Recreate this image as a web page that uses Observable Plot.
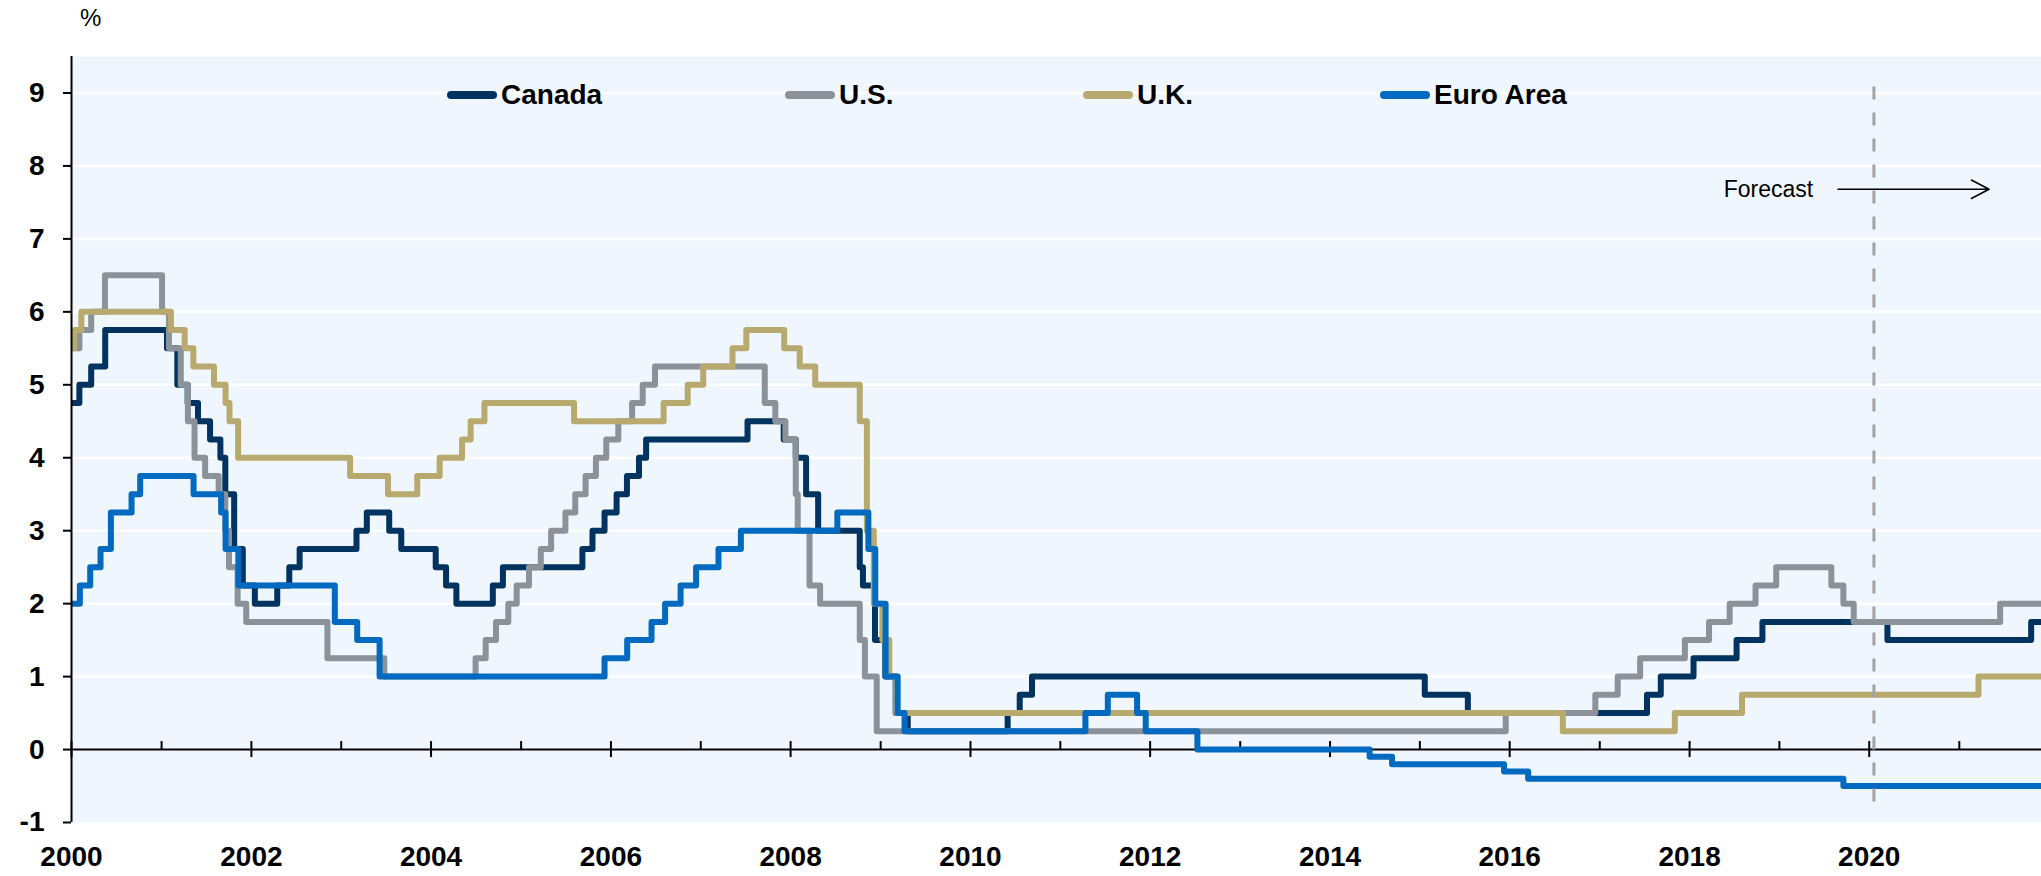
<!DOCTYPE html>
<html>
<head>
<meta charset="utf-8">
<script src="https://cdn.jsdelivr.net/npm/d3@7"></script>
<script src="https://cdn.jsdelivr.net/npm/@observablehq/plot@0.6"></script>
<style>
  body { margin: 0; background: #fff; }
  #wrap { position: relative; width: 2041px; height: 876px; font-family: "Liberation Sans", Arial, sans-serif; color: #000; }
  #unit { position: absolute; left: 80px; top: 6px; font-size: 24px; line-height: 1; }
  .leg { position: absolute; top: 79px; display: flex; align-items: center; font-weight: bold; font-size: 28px; line-height: 32px; }
  .sw { width: 50px; height: 8px; border-radius: 4px; margin-right: 4px; }
  svg { position: absolute; left: 0; top: 0; }
</style>
</head>
<body>
<div id="wrap"><div id="unit">%</div></div>
<script>
// ---- data (policy rates, %; change points) ----
const seriesNames = ["Canada", "U.S.", "U.K.", "Euro Area"];
const seriesColors = ["#00335f", "#8b9299", "#b8a96f", "#006ac1"];

const canadaRates = [
  ["2000-01-01", 4.75], ["2000-02-02", 5.00], ["2000-03-21", 5.25], ["2000-05-17", 5.75],
  ["2001-01-23", 5.50], ["2001-03-06", 5.00], ["2001-04-17", 4.75], ["2001-05-29", 4.50],
  ["2001-07-17", 4.25], ["2001-08-28", 4.00], ["2001-09-17", 3.50], ["2001-10-23", 2.75],
  ["2001-11-27", 2.25], ["2002-01-15", 2.00], ["2002-04-16", 2.25], ["2002-06-04", 2.50],
  ["2002-07-16", 2.75], ["2003-03-04", 3.00], ["2003-04-15", 3.25], ["2003-07-15", 3.00],
  ["2003-09-02", 2.75], ["2004-01-20", 2.50], ["2004-03-02", 2.25], ["2004-04-13", 2.00],
  ["2004-09-08", 2.25], ["2004-10-19", 2.50], ["2005-09-07", 2.75], ["2005-10-18", 3.00],
  ["2005-12-06", 3.25], ["2006-01-24", 3.50], ["2006-03-07", 3.75], ["2006-04-25", 4.00],
  ["2006-05-24", 4.25], ["2007-07-10", 4.50], ["2007-12-04", 4.25], ["2008-01-22", 4.00],
  ["2008-03-04", 3.50], ["2008-04-22", 3.00], ["2008-10-08", 2.50], ["2008-10-21", 2.25],
  ["2008-12-09", 1.50], ["2009-01-20", 1.00], ["2009-03-03", 0.50], ["2009-04-21", 0.25],
  ["2010-06-01", 0.50], ["2010-07-20", 0.75], ["2010-09-08", 1.00], ["2015-01-21", 0.75],
  ["2015-07-15", 0.50], ["2017-07-12", 0.75], ["2017-09-06", 1.00], ["2018-01-17", 1.25],
  ["2018-07-11", 1.50], ["2018-10-24", 1.75], ["2020-03-15", 1.50], ["2021-10-20", 1.75]
];
const usRates = [
  ["2000-01-01", 5.50], ["2000-02-02", 5.75], ["2000-03-21", 6.00], ["2000-05-16", 6.50],
  ["2001-01-03", 6.00], ["2001-01-31", 5.50], ["2001-03-20", 5.00], ["2001-04-18", 4.50],
  ["2001-05-15", 4.00], ["2001-06-27", 3.75], ["2001-08-21", 3.50], ["2001-09-17", 3.00],
  ["2001-10-02", 2.50], ["2001-11-06", 2.00], ["2001-12-11", 1.75], ["2002-11-06", 1.25],
  ["2003-06-25", 1.00], ["2004-06-30", 1.25], ["2004-08-10", 1.50], ["2004-09-21", 1.75],
  ["2004-11-10", 2.00], ["2004-12-14", 2.25], ["2005-02-02", 2.50], ["2005-03-22", 2.75],
  ["2005-05-03", 3.00], ["2005-06-30", 3.25], ["2005-08-09", 3.50], ["2005-09-20", 3.75],
  ["2005-11-01", 4.00], ["2005-12-13", 4.25], ["2006-01-31", 4.50], ["2006-03-28", 4.75],
  ["2006-05-10", 5.00], ["2006-06-29", 5.25], ["2007-09-18", 4.75], ["2007-10-31", 4.50],
  ["2007-12-11", 4.25], ["2008-01-22", 3.50], ["2008-01-30", 3.00], ["2008-03-18", 2.25],
  ["2008-04-30", 2.00], ["2008-10-08", 1.50], ["2008-10-29", 1.00], ["2008-12-16", 0.25],
  ["2015-12-16", 0.50], ["2016-12-14", 0.75], ["2017-03-15", 1.00], ["2017-06-14", 1.25],
  ["2017-12-13", 1.50], ["2018-03-21", 1.75], ["2018-06-13", 2.00], ["2018-09-26", 2.25],
  ["2018-12-19", 2.50], ["2019-07-31", 2.25], ["2019-09-18", 2.00], ["2019-10-30", 1.75],
  ["2021-06-16", 2.00]
];
const ukRates = [
  ["2000-01-01", 5.50], ["2000-01-13", 5.75], ["2000-02-10", 6.00], ["2001-02-08", 5.75],
  ["2001-04-05", 5.50], ["2001-05-10", 5.25], ["2001-08-02", 5.00], ["2001-09-18", 4.75],
  ["2001-10-04", 4.50], ["2001-11-08", 4.00], ["2003-02-06", 3.75], ["2003-07-10", 3.50],
  ["2003-11-06", 3.75], ["2004-02-05", 4.00], ["2004-05-06", 4.25], ["2004-06-10", 4.50],
  ["2004-08-05", 4.75], ["2005-08-04", 4.50], ["2006-08-03", 4.75], ["2006-11-09", 5.00],
  ["2007-01-11", 5.25], ["2007-05-10", 5.50], ["2007-07-05", 5.75], ["2007-12-06", 5.50],
  ["2008-02-07", 5.25], ["2008-04-10", 5.00], ["2008-10-08", 4.50], ["2008-11-06", 3.00],
  ["2008-12-04", 2.00], ["2009-01-08", 1.50], ["2009-02-05", 1.00], ["2009-03-05", 0.50],
  ["2016-08-04", 0.25], ["2017-11-02", 0.50], ["2018-08-02", 0.75], ["2021-03-20", 1.00]
];
const euroRates = [
  ["2000-01-01", 2.00], ["2000-02-04", 2.25], ["2000-03-17", 2.50], ["2000-04-28", 2.75],
  ["2000-06-09", 3.25], ["2000-09-01", 3.50], ["2000-10-06", 3.75], ["2001-05-11", 3.50],
  ["2001-08-31", 3.25], ["2001-09-18", 2.75], ["2001-11-09", 2.25], ["2002-12-06", 1.75],
  ["2003-03-07", 1.50], ["2003-06-06", 1.00], ["2005-12-06", 1.25], ["2006-03-08", 1.50],
  ["2006-06-15", 1.75], ["2006-08-09", 2.00], ["2006-10-11", 2.25], ["2006-12-13", 2.50],
  ["2007-03-14", 2.75], ["2007-06-13", 3.00], ["2008-07-09", 3.25], ["2008-11-12", 2.75],
  ["2008-12-10", 2.00], ["2009-01-21", 1.00], ["2009-03-11", 0.50], ["2009-04-08", 0.25],
  ["2011-04-13", 0.50], ["2011-07-13", 0.75], ["2011-11-09", 0.50], ["2011-12-14", 0.25],
  ["2012-07-11", 0.00], ["2014-06-11", -0.10], ["2014-09-10", -0.20], ["2015-12-09", -0.30],
  ["2016-03-16", -0.40], ["2019-09-18", -0.50]
];
const seriesEnd = "2021-12-31";

const yTicks = [-1, 0, 1, 2, 3, 4, 5, 6, 7, 8, 9];
const gridTicks = [1, 2, 3, 4, 5, 6, 7, 8, 9];
const xMajorYears = ["2000", "2002", "2004", "2006", "2008", "2010", "2012", "2014", "2016", "2018", "2020"];
const xMinorYears = ["2001", "2003", "2005", "2007", "2009", "2011", "2013", "2015", "2017", "2019", "2021"];
const xDomain = ["2000-01-01", "2021-12-01"];
const yDomain = [-1, 9.5];

const forecastStart = ["2020-01-20"];
const forecastSpan = [-0.72, 9.18];
const forecastNote = [{date: "2019-05-18", value: 7.68, text: "Forecast"}];
const forecastArrow = [{from: "2019-08-27", to: "2021-05-02", value: 7.68}];

// ---- build ----
const parseDate = d3.utcParse("%Y-%m-%d");
const parseYear = d3.utcParse("%Y");
const allSeries = [canadaRates, usRates, ukRates, euroRates];
const rows = [];
allSeries.forEach((arr, i) => {
  arr.forEach(([d, v]) => rows.push({series: seriesNames[i], date: parseDate(d), value: v}));
  rows.push({series: seriesNames[i], date: parseDate(seriesEnd), value: arr[arr.length - 1][1]});
});
const majorDates = xMajorYears.map(parseYear);
const minorDates = xMinorYears.map(parseYear);

const chart = Plot.plot({
  width: 2041,
  height: 876,
  marginTop: 56,
  marginBottom: 54,
  marginLeft: 71,
  marginRight: 0,
  x: {type: "utc", domain: xDomain.map(parseDate)},
  y: {domain: yDomain},
  color: {domain: seriesNames, range: seriesColors},
  style: {fontFamily: "'Liberation Sans', Arial, sans-serif", fontSize: "28px", fontWeight: "bold", color: "#000", background: "transparent"},
  marks: [
    Plot.frame({fill: "#eff6fd", stroke: null}),
    Plot.gridY(gridTicks, {stroke: "#ffffff", strokeOpacity: 1, strokeWidth: 2.5}),
    Plot.ruleY([0], {stroke: "#000", strokeWidth: 2}),
    Plot.ruleX(minorDates, {x: d => d, y1: 0, y2: 0, insetTop: -8, stroke: "#000", strokeWidth: 2}),
    Plot.ruleX(majorDates, {x: d => d, y1: 0, y2: 0, insetTop: -8, insetBottom: -8, stroke: "#000", strokeWidth: 2}),
    Plot.line(rows, {x: "date", y: "value", z: "series", stroke: "series", curve: "step-after", strokeWidth: 6, strokeLinejoin: "round", clip: true}),
    Plot.ruleX(forecastStart, {x: d => parseDate(d), y1: forecastSpan[0], y2: forecastSpan[1], stroke: "#a3a3a3", strokeWidth: 3, strokeDasharray: "13,13"}),
    Plot.text(forecastNote, {x: d => parseDate(d.date), y: "value", text: "text", textAnchor: "end", fontWeight: "normal", fontSize: 23, fill: "#000"}),
    Plot.arrow(forecastArrow, {x1: d => parseDate(d.from), x2: d => parseDate(d.to), y1: "value", y2: "value", stroke: "#000", strokeWidth: 1.5, headLength: 20, headAngle: 55}),
    Plot.axisY({ticks: yTicks, tickSize: 8, tickPadding: 19, strokeWidth: 2, tickFormat: d => String(d), label: null}),
    Plot.ruleX([parseDate(xDomain[0])], {stroke: "#000", strokeWidth: 2}),
    Plot.axisX({ticks: majorDates, tickSize: 0, tickPadding: 24, tickFormat: d3.utcFormat("%Y"), label: null})
  ]
});

const wrap = document.getElementById("wrap");
wrap.appendChild(chart);

// legend (inside the plot area, along the top)
const legendLeft = [447, 785, 1083, 1380];
seriesNames.forEach((name, i) => {
  const item = document.createElement("div");
  item.className = "leg";
  item.style.left = legendLeft[i] + "px";
  const sw = document.createElement("div");
  sw.className = "sw";
  sw.style.background = seriesColors[i];
  const label = document.createElement("span");
  label.textContent = name;
  item.appendChild(sw);
  item.appendChild(label);
  wrap.appendChild(item);
});
</script>
</body>
</html>
